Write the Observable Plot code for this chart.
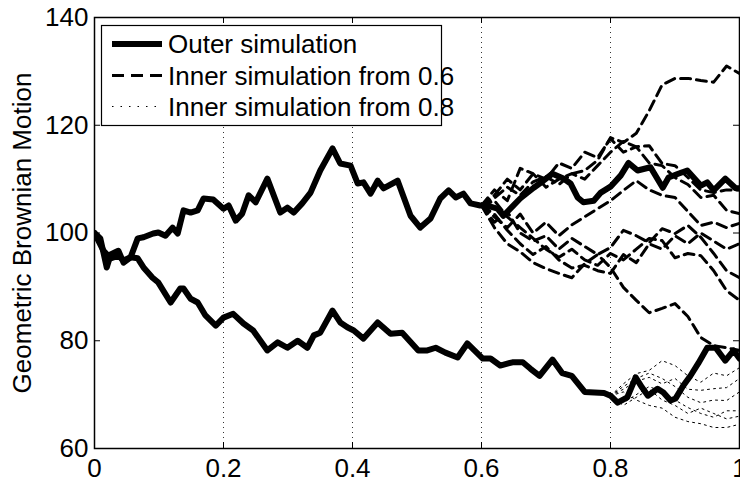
<!DOCTYPE html>
<html><head><meta charset="utf-8">
<script src="https://cdn.jsdelivr.net/npm/d3@7"></script>
<script src="https://cdn.jsdelivr.net/npm/@observablehq/plot@0.6"></script>
<style>
body{margin:0;background:#fff;}
#wrap{position:relative;width:740px;height:483px;}
#wrap svg{position:absolute;left:0;top:0;}
</style></head><body><div id="wrap"></div>
<script>
// ---- data ----
const upperT = [0,0.009,0.019,0.025,0.037,0.045,0.056,0.067,0.076,0.091,0.099,0.110,0.121,0.129,0.138,0.149,0.160,0.169,0.184,0.200,0.208,0.219,0.229,0.239,0.250,0.268,0.288,0.299,0.309,0.322,0.335,0.350,0.369,0.381,0.397,0.408,0.417,0.428,0.439,0.448,0.470,0.490,0.505,0.521,0.536,0.549,0.560,0.572,0.583,0.598,0.609,0.625,0.634,0.647,0.660,0.681,0.696,0.710,0.727,0.738,0.749,0.758,0.774,0.785,0.800,0.816,0.828,0.842,0.862,0.881,0.890,0.905,0.919,0.940,0.950,0.960,0.978,0.994,1.0];
const upperV = [100,99,93.6,96,96.7,94.5,95.5,99,99.2,99.9,100.1,99.5,101,99.9,104.2,103.8,104.2,106.4,106.2,104.5,105.1,102.3,103.6,107,105.7,110.1,103.8,104.7,103.8,105.5,107.5,111.6,115.7,112.9,112.5,109.2,109.4,107.3,109.7,108.3,109.7,103.2,101,102.7,106.4,107.9,106.6,107.3,105.5,105.1,105.1,104.5,103.2,104.8,106.4,108.4,109.7,111,110.1,109.2,106.6,105.7,106,107.5,108.6,110.7,113,111.6,112.2,108.4,110.3,111,111.6,108.8,109.4,107.9,110.1,108.3,108.3];
const lowerT = [0,0.014,0.025,0.037,0.045,0.056,0.067,0.076,0.090,0.099,0.118,0.133,0.138,0.149,0.160,0.172,0.188,0.200,0.215,0.231,0.246,0.268,0.284,0.299,0.315,0.330,0.340,0.350,0.369,0.381,0.392,0.402,0.417,0.439,0.459,0.477,0.502,0.516,0.529,0.544,0.563,0.578,0.602,0.614,0.629,0.648,0.664,0.676,0.690,0.710,0.725,0.740,0.760,0.775,0.790,0.800,0.811,0.826,0.839,0.849,0.858,0.873,0.882,0.893,0.901,0.913,0.924,0.936,0.950,0.963,0.978,0.991,1.0];
const lowerV = [100,96.7,95.3,95.8,94.9,95.5,95.3,93.6,91.7,90.8,87.1,89.7,89.7,87.8,87.1,84.7,82.8,84.3,85,83.2,81.9,78.2,79.7,78.7,80,78.7,81,81.5,85.6,83.4,82.5,81.9,80.4,83.4,81.3,81.5,78.2,78.2,78.7,77.8,76.9,79.5,76.7,76.7,75.4,76,76,74.8,73.5,76.5,74,73.5,70.5,70.4,70.3,69.8,68.5,69.5,73.2,71.3,69.8,71.1,70.4,68.9,69.3,71.7,73.5,75.8,78.7,78.7,76.3,78.2,76.7];

const inner06T = [0.60,0.62,0.64,0.66,0.68,0.70,0.72,0.74,0.76,0.78,0.80,0.82,0.84,0.86,0.88,0.90,0.92,0.94,0.96,0.98,1.00];
const inner06_1 = [105.1,106.5,108.5,107,109.5,110.5,109,111,111.6,113.5,117.7,116.8,118.5,122.7,127.5,128.7,128.7,128.3,128,131,129.6];
const inner06_2 = [105.1,101,98,96.5,94.5,93.4,92.5,91.7,94.3,96,93.6,89.9,87.5,85.2,86,86.9,84.5,80.6,79.1,78.7,78.2];
const inner06_3 = [105.1,107,110,108,111,110,113,112,115,114,117.5,115,116,113,112.5,110.3,109,106.6,107,104.2,103.6];
const inner06_4 = [105.1,103,101,103.5,100,102,99.5,101.5,103,104.5,106,107.9,109.7,108,107,106.6,104,101.4,102,101,101.8];
const inner06_5 = [105.1,102,104,100,98.5,99.5,97,99,97.5,96,97.3,100.5,99.5,98.2,100.8,99.9,101.4,99.2,96.2,93,91.7];
const inner06_6 = [105.1,106,103,101,99,97,95.5,97,95,94,96.2,95,97,99,98.6,95.4,96.2,95.8,93,89.3,87.5];
const inner06_7 = [105.1,108,106,112,111,108.5,110,111,110,112.5,115,117,116,116.2,112.9,112.5,110.3,108,107.5,108,108];
const inner06_8 = [105.1,103.5,100.5,98,96,97.5,95,93.5,94,93,92.5,96,94.5,98,97,99.5,98,100,98.5,97,98];

const inner08T = [0.80,0.82,0.84,0.86,0.88,0.90,0.92,0.94,0.96,0.98,1.00];
const inner08_1 = [69.8,72,73.9,74.5,76.3,75.4,73.5,72.3,74,73.5,75];
const inner08_2 = [69.8,71,72.5,73.2,72,73,71,70.8,71.1,71.3,73];
const inner08_3 = [69.8,68.5,70,71.5,70.5,69,67.6,66.5,65.8,67,67];
const inner08_4 = [69.8,70.5,69,68,67.5,65.8,65,64.6,63.9,63.9,64.5];
const inner08_5 = [69.8,71.5,73,74,73,71.5,69.5,68.5,69,68.9,70.5];
const inner08_6 = [69.8,68,69.5,71,69,68,66.5,67.5,66.5,65.5,66];

const xTicks = [0,0.2,0.4,0.6,0.8,1];
const xTickLabels = ["0","0.2","0.4","0.6","0.8","1"];
const xGrid = [0.2,0.4,0.6,0.8];
const yTicks = [60,80,100,120,140];
const yTickLabels = ["60","80","100","120","140"];
const yLabel = "Geometric Brownian Motion";
const legendLabels = ["Outer simulation","Inner simulation from 0.6","Inner simulation from 0.8"];

// ---- build tables ----
const toRows = (id, ts, vs) => ts.map((t, i) => ({id, t, v: vs[i]}));
const outer = [...toRows("u", upperT, upperV), ...toRows("l", lowerT, lowerV)];
const dashed = [inner06_1,inner06_2,inner06_3,inner06_4,inner06_5,inner06_6,inner06_7,inner06_8]
  .flatMap((vs, k) => toRows("d" + k, inner06T, vs));
const dotted = [inner08_1,inner08_2,inner08_3,inner08_4,inner08_5,inner08_6]
  .flatMap((vs, k) => toRows("p" + k, inner08T, vs));

const W = 740, H = 483, mL = 94, mR = 1, mT = 17, mB = 35;
const plotW = W - mL - mR, plotH = H - mT - mB;
const xLab = new Map(xTicks.map((d, i) => [d, xTickLabels[i]]));
const yLab = new Map(yTicks.map((d, i) => [d, yTickLabels[i]]));
const font = "'Liberation Sans', Arial, Helvetica, sans-serif";

const chart = Plot.plot({
  width: W, height: H, marginLeft: mL, marginRight: mR, marginTop: mT, marginBottom: mB,
  style: {fontFamily: font, fontSize: "26px", background: "white", color: "black"},
  x: {domain: [0, 1]},
  y: {domain: [60, 140]},
  marks: [
    Plot.ruleX(xGrid, {stroke: "#333", strokeDasharray: "1,4", strokeWidth: 1}),
    Plot.line(dotted, {x: "t", y: "v", z: "id", stroke: "black", strokeWidth: 1, strokeDasharray: "2,4", clip: true}),
    Plot.line(dashed, {x: "t", y: "v", z: "id", stroke: "black", strokeWidth: 3, strokeDasharray: "10,6", clip: true}),
    Plot.line(outer, {x: "t", y: "v", z: "id", stroke: "black", strokeWidth: 6, strokeLinejoin: "round", strokeLinecap: "round", clip: true}),
    Plot.ruleY(yTicks, {insetRight: plotW - 6, stroke: "black"}),
    Plot.ruleY(yTicks, {insetLeft: plotW - 6, stroke: "black"}),
    Plot.ruleX(xTicks, {insetTop: plotH - 6, stroke: "black"}),
    Plot.ruleX(xTicks, {insetBottom: plotH - 6, stroke: "black"}),
    Plot.frame({stroke: "black", strokeWidth: 1.5}),
    Plot.axisX({ticks: xTicks, tickFormat: d => xLab.get(d), tickSize: 0, tickPadding: 10, fontSize: 26, label: null}),
    Plot.axisY({ticks: yTicks, tickFormat: d => yLab.get(d), tickSize: 0, tickPadding: 6, fontSize: 26, label: null}),
    Plot.text([yLabel], {text: d => d, frameAnchor: "left", textAnchor: "middle", rotate: -90, dx: -72, fontSize: 26})
  ]
});
const wrap = document.getElementById("wrap");
wrap.appendChild(chart);

// ---- legend overlay ----
const ns = "http://www.w3.org/2000/svg";
const lg = document.createElementNS(ns, "svg");
lg.setAttribute("width", W); lg.setAttribute("height", H);
lg.style.pointerEvents = "none";
const box = {x: 101.5, y: 25.5, w: 340, h: 100};
const rowsY = [44, 75.5, 106.5];
const styles = [
  {w: 6, dash: null},
  {w: 3, dash: "12,7"},
  {w: 1, dash: "1.5,7"}
];
let html = `<rect x="${box.x}" y="${box.y}" width="${box.w}" height="${box.h}" fill="white" stroke="black" stroke-width="1.2"/>`;
legendLabels.forEach((lab, i) => {
  const y = rowsY[i];
  html += `<line x1="112" x2="162" y1="${y}" y2="${y}" stroke="black" stroke-width="${styles[i].w}" ${styles[i].dash ? `stroke-dasharray="${styles[i].dash}"` : ""}/>`;
  html += `<text x="168" y="${y + 9.3}" font-family="${font.replace(/'/g, "")}" font-size="26" fill="black">${lab}</text>`;
});
lg.innerHTML = html;
wrap.appendChild(lg);
</script>
</body></html>
